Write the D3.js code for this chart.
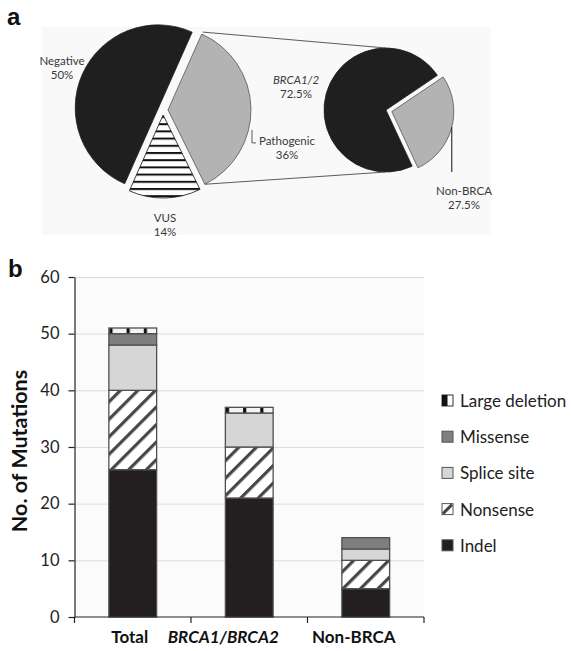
<!DOCTYPE html>
<html><head><meta charset="utf-8">
<script src="https://cdn.jsdelivr.net/npm/d3@7"></script>
<style>body{margin:0;background:#fff} svg{display:block}</style>
</head><body>
<svg id="chart" width="571" height="651"></svg>
<script>
// ---------- data ----------
const pieCategories = ["Pathogenic", "VUS", "Negative"];
const pieValues = [36, 14, 50];
const pieLabelText = [["Pathogenic", "36%"], ["VUS", "14%"], ["Negative", "50%"]];
const subPieCategories = ["Non-BRCA", "BRCA1/2"];
const subPieValues = [27.5, 72.5];
const subPieLabelText = [["Non-BRCA", "27.5%"], ["BRCA1/2", "72.5%"]];

const categories = ["Total", "BRCA1/BRCA2", "Non-BRCA"];
const mutationTypes = ["Indel", "Nonsense", "Splice site", "Missense", "Large deletion"];
const indel = [26, 21, 5];
const nonsense = [14, 9, 5];
const spliceSite = [8, 6, 2];
const missense = [2, 0, 2];
const largeDeletion = [1, 1, 0];
const yTicks = [0, 10, 20, 30, 40, 50, 60];
const legendOrder = ["Large deletion", "Missense", "Splice site", "Nonsense", "Indel"];

// ---------- setup ----------
const svg = d3.select("#chart");
const FONT = "Lato, 'Open Sans', sans-serif";
const defs = svg.append("defs");

// hatch for Nonsense
const hatch = defs.append("pattern").attr("id", "hatch").attr("patternUnits", "userSpaceOnUse")
  .attr("width", 12.4).attr("height", 12.4).attr("patternTransform", "rotate(45)");
hatch.append("rect").attr("width", 12.4).attr("height", 12.4).attr("fill", "#fff");
hatch.append("rect").attr("x", 0).attr("width", 3.2).attr("height", 12.4).attr("fill", "#474747");

// horizontal stripes for VUS
const hs = defs.append("pattern").attr("id", "hstripes").attr("patternUnits", "userSpaceOnUse")
  .attr("width", 10).attr("height", 7.2).attr("y", 1);
hs.append("rect").attr("width", 10).attr("height", 7.2).attr("fill", "#fff");
hs.append("rect").attr("y", 0).attr("width", 10).attr("height", 2).attr("fill", "#111");

// ---------- panel labels ----------
svg.append("text").attr("x", 7).attr("y", 25).text("a")
  .attr("font-family", "Arial, 'Liberation Sans', sans-serif").attr("font-weight", "bold").attr("font-size", 24).attr("fill", "#111");
svg.append("text").attr("x", 8).attr("y", 277).text("b")
  .attr("font-family", "Arial, 'Liberation Sans', sans-serif").attr("font-weight", "bold").attr("font-size", 24).attr("fill", "#111");

// ---------- panel a ----------
const pa = svg.append("g");
pa.append("rect").attr("x", 42).attr("y", 27).attr("width", 449).attr("height", 208).attr("fill", "#f9f9f9");

const deg = Math.PI / 180;
const c1 = [163, 110], r1 = 83, explode1 = 5;
const c2 = [386, 110], r2 = 62, explode2 = 6;
const pie1 = d3.pie().sort(null).startAngle(24 * deg).endAngle(384 * deg)(pieValues);
const pie2 = d3.pie().sort(null).startAngle(56 * deg).endAngle(416 * deg)(subPieValues);
const arc1 = d3.arc().innerRadius(0).outerRadius(r1);
const arc2 = d3.arc().innerRadius(0).outerRadius(r2);
const off = (d, e) => { const m = (d.startAngle + d.endAngle) / 2; return [e * Math.sin(m), -e * Math.cos(m)]; };

const pieFill = { "Pathogenic": "#b3b3b3", "VUS": "url(#hstripes)", "Negative": "#1f1f1f" };
const pieStroke = { "Pathogenic": "#555", "VUS": "#111", "Negative": "#1f1f1f" };
pie1.forEach((d, i) => {
  const o = off(d, explode1);
  d.cx = c1[0] + o[0]; d.cy = c1[1] + o[1];
  pa.append("path").attr("d", arc1(d)).attr("transform", `translate(${d.cx},${d.cy})`)
    .attr("fill", pieFill[pieCategories[i]]).attr("stroke", pieStroke[pieCategories[i]]).attr("stroke-width", 0.8);
});
const subFill = { "Non-BRCA": "#b3b3b3", "BRCA1/2": "#1f1f1f" };
pie2.forEach((d, i) => {
  const o = subPieCategories[i] === "Non-BRCA" ? off(d, explode2) : [0, 0];
  d.cx = c2[0] + o[0]; d.cy = c2[1] + o[1];
  pa.append("path").attr("d", arc2(d)).attr("transform", `translate(${d.cx},${d.cy})`)
    .attr("fill", subFill[subPieCategories[i]]).attr("stroke", subPieCategories[i] === "Non-BRCA" ? "#555" : "#1f1f1f").attr("stroke-width", 0.8);
});

// connector lines from Pathogenic slice to the sub pie
const pat = pie1[0];
const pTop = [pat.cx + r1 * Math.sin(pat.startAngle), pat.cy - r1 * Math.cos(pat.startAngle)];
const pBot = [pat.cx + r1 * Math.sin(pat.endAngle), pat.cy - r1 * Math.cos(pat.endAngle)];
pa.append("line").attr("x1", pTop[0] + 1).attr("y1", pTop[1] - 2).attr("x2", c2[0]).attr("y2", c2[1] - r2)
  .attr("stroke", "#333").attr("stroke-width", 0.8);
pa.append("line").attr("x1", pBot[0]).attr("y1", pBot[1]).attr("x2", c2[0]).attr("y2", c2[1] + r2)
  .attr("stroke", "#333").attr("stroke-width", 0.8);

// leaders
const lx = pat.cx + r1 + 1;
pa.append("path").attr("d", `M${lx},${pat.cy + 20}V${pat.cy + 33}H${lx + 4}`)
  .attr("fill", "none").attr("stroke", "#333").attr("stroke-width", 0.8);
const nb = pie2[0];
const nbx = nb.cx + 60;
const nby = nb.cy + Math.sqrt(r2 * r2 - 60 * 60);
pa.append("line").attr("x1", nbx).attr("y1", nby).attr("x2", nbx).attr("y2", c2[1] + r2)
  .attr("stroke", "#111").attr("stroke-width", 1);

// pie labels
function label2(lines, x, y, italicFirst) {
  const t = pa.append("g").attr("font-family", FONT).attr("font-size", 11.5).attr("fill", "#3a3a3a").attr("text-anchor", "middle");
  lines.forEach((s, k) => {
    t.append("text").attr("x", x).attr("y", y + k * 14).text(s)
      .attr("font-style", (italicFirst && k === 0) ? "italic" : "normal");
  });
}
label2(pieLabelText[2], 62, 65, false);
label2(pieLabelText[1], 165, 222, false);
label2(pieLabelText[0], 287, 145, false);
label2(subPieLabelText[1], 296, 84, true);
label2(subPieLabelText[0], 464, 195, false);

// ---------- panel b ----------
const x = d3.scaleBand().domain(categories).range([74.5, 424]).paddingInner(0.59).paddingOuter(0.295);
const y = d3.scaleLinear().domain([0, 60]).range([617, 277]);

const pb = svg.append("g");
pb.append("rect").attr("x", x.range()[0]).attr("y", y(60)).attr("width", x.range()[1] - x.range()[0])
  .attr("height", y(0) - y(60)).attr("fill", "#fbfbfb");
pb.selectAll(".grid").data(yTicks.filter(v => v > 0)).join("line")
  .attr("x1", x.range()[0]).attr("x2", x.range()[1]).attr("y1", d => y(d) + 0.5).attr("y2", d => y(d) + 0.5)
  .attr("stroke", "#dcdcdc").attr("stroke-width", 1);

// large deletion patterns, aligned to each bar
categories.forEach((c, i) => {
  const p = defs.append("pattern").attr("id", "ld" + i).attr("patternUnits", "userSpaceOnUse")
    .attr("x", x(c) + 0.5).attr("y", 0).attr("width", 17.2).attr("height", 20);
  p.append("rect").attr("width", 17.2).attr("height", 20).attr("fill", "#f4f4f4");
  p.append("rect").attr("width", 3.2).attr("height", 20).attr("fill", "#111");
});

const rows = categories.map((c, i) => ({
  category: c, idx: i,
  "Indel": indel[i], "Nonsense": nonsense[i], "Splice site": spliceSite[i],
  "Missense": missense[i], "Large deletion": largeDeletion[i]
}));
const stacked = d3.stack().keys(mutationTypes)(rows);
const fills = { "Indel": "#231f20", "Nonsense": "url(#hatch)", "Splice site": "#d6d6d6", "Missense": "#7f7f7f" };

stacked.forEach(layer => {
  pb.append("g").selectAll("rect").data(layer.filter(d => d[1] - d[0] > 0)).join("rect")
    .attr("x", d => x(d.data.category))
    .attr("y", d => y(d[1]))
    .attr("width", x.bandwidth())
    .attr("height", d => y(d[0]) - y(d[1]))
    .attr("fill", d => layer.key === "Large deletion" ? `url(#ld${d.data.idx})` : fills[layer.key])
    .attr("stroke", "#505050").attr("stroke-width", 1.3);
});

// y axis
const yAxis = pb.append("g").attr("transform", `translate(${x.range()[0]},0)`)
  .call(d3.axisLeft(y).tickValues(yTicks).tickSize(6).tickSizeOuter(0).tickPadding(9));
yAxis.select(".domain").attr("stroke", "#222").attr("stroke-width", 1.2);
yAxis.selectAll(".tick line").attr("stroke", "#222").attr("stroke-width", 1.2);
yAxis.selectAll("text").attr("font-family", FONT).attr("font-size", 16.5).attr("fill", "#222");

// x axis
pb.append("line").attr("x1", x.range()[0]).attr("x2", x.range()[1]).attr("y1", y(0)).attr("y2", y(0))
  .attr("stroke", "#222").attr("stroke-width", 1.2);
pb.selectAll(".xt").data(d3.range(categories.length + 1)).join("line")
  .attr("x1", i => x.range()[0] + i * x.step()).attr("x2", i => x.range()[0] + i * x.step())
  .attr("y1", y(0)).attr("y2", y(0) + 6).attr("stroke", "#222").attr("stroke-width", 1.2);
const labelShift = [-3, -26, -12];
pb.selectAll(".xl").data(categories).join("text")
  .attr("x", (d, i) => x(d) + x.bandwidth() / 2 + labelShift[i]).attr("y", 643)
  .attr("text-anchor", "middle").attr("font-family", FONT).attr("font-weight", "bold").attr("font-size", 17)
  .attr("font-style", d => d === "BRCA1/BRCA2" ? "italic" : "normal").attr("fill", "#111").text(d => d);

// y label
pb.append("text").attr("transform", `translate(27,${(y(0) + y(60)) / 2 + 4}) rotate(-90)`)
  .attr("text-anchor", "middle").attr("font-family", FONT).attr("font-weight", "bold").attr("font-size", 21.5)
  .attr("fill", "#111").text("No. of Mutations");

// legend
const lg = pb.append("g");
legendOrder.forEach((k, i) => {
  const ly = 395 + i * 36.2;
  const g = lg.append("g").attr("transform", `translate(442,${ly})`);
  if (k === "Large deletion") {
    g.append("rect").attr("width", 11).attr("height", 11).attr("fill", "#fff").attr("stroke", "#333").attr("stroke-width", 1);
    g.append("rect").attr("width", 5.5).attr("height", 11).attr("fill", "#111");
  } else if (k === "Nonsense") {
    g.append("rect").attr("width", 11).attr("height", 11).attr("fill", "#fff").attr("stroke", "#555").attr("stroke-width", 1);
    g.append("line").attr("x1", 1).attr("y1", 10).attr("x2", 10).attr("y2", 1).attr("stroke", "#444").attr("stroke-width", 3);
  } else {
    g.append("rect").attr("width", 11).attr("height", 11).attr("fill", fills[k]).attr("stroke", "#555").attr("stroke-width", 1);
  }
  lg.append("text").attr("x", 460).attr("y", ly + 12).attr("font-family", FONT).attr("font-size", 17)
    .attr("fill", "#222").text(k);
});
</script>
</body></html>
